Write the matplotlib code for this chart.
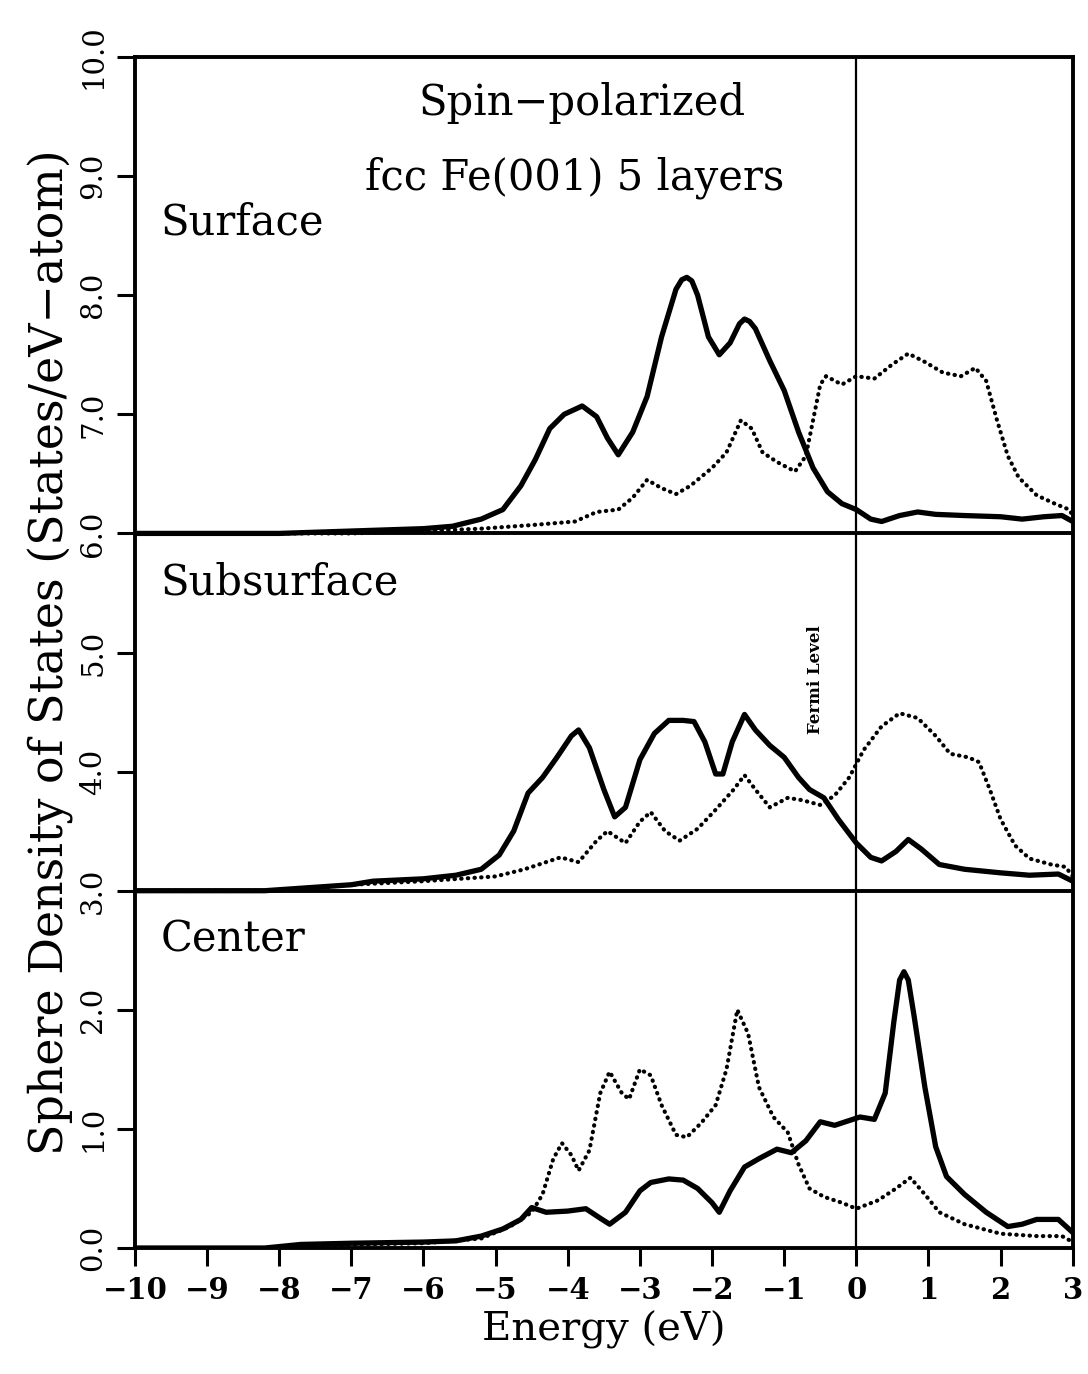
import numpy as np
import matplotlib.pyplot as plt

# layer DOS (values relative to each panel's baseline)
surf_up_e = [-10, -8, -7, -6, -5.6, -5.2, -4.9, -4.65, -4.45, -4.25, -4.05, -3.8, -3.6, -3.45, -3.3,
             -3.1, -2.9, -2.7, -2.5, -2.42, -2.35, -2.28, -2.2, -2.05, -1.9, -1.75, -1.62, -1.55,
             -1.48, -1.4, -1.2, -1.0, -0.8, -0.6, -0.4, -0.2, 0.0, 0.2, 0.35, 0.6, 0.85, 1.1,
             1.5, 2.0, 2.3, 2.6, 2.85, 3.0]
surf_up = [0.0, 0.0, 0.02, 0.04, 0.06, 0.12, 0.2, 0.4, 0.62, 0.88, 1.0, 1.07, 0.98, 0.8, 0.66,
           0.85, 1.15, 1.65, 2.05, 2.13, 2.15, 2.12, 2.0, 1.65, 1.5, 1.6, 1.76, 1.8,
           1.78, 1.72, 1.45, 1.2, 0.85, 0.55, 0.35, 0.25, 0.2, 0.12, 0.1, 0.15, 0.18, 0.16,
           0.15, 0.14, 0.12, 0.14, 0.15, 0.1]

surf_dn_e = [-10, -7, -6, -5.2, -4.5, -3.9, -3.6, -3.3, -3.1, -2.9, -2.7, -2.5, -2.3, -2.0, -1.8,
             -1.6, -1.45, -1.3, -1.1, -0.85, -0.7, -0.6, -0.5, -0.42, -0.2, 0.0, 0.25, 0.5,
             0.72, 0.95, 1.2, 1.45, 1.65, 1.8, 1.95, 2.1, 2.25, 2.5, 2.75, 2.95, 3.0]
surf_dn = [0.0, 0.0, 0.02, 0.04, 0.07, 0.1, 0.18, 0.2, 0.3, 0.45, 0.38, 0.33, 0.4, 0.55, 0.68,
           0.95, 0.88, 0.68, 0.6, 0.52, 0.65, 0.95, 1.25, 1.32, 1.25, 1.32, 1.3, 1.42,
           1.51, 1.44, 1.35, 1.32, 1.39, 1.28, 0.95, 0.65, 0.47, 0.32, 0.25, 0.2, 0.15]

sub_up_e = [-10, -8.2, -7, -6.7, -6, -5.55, -5.2, -4.95, -4.75, -4.55, -4.35, -4.15, -3.95, -3.85,
            -3.7, -3.5, -3.35, -3.2, -3.0, -2.8, -2.6, -2.4, -2.25, -2.1, -1.95, -1.85, -1.72,
            -1.55, -1.4, -1.2, -1.0, -0.8, -0.65, -0.45, -0.25, 0.0, 0.2, 0.35, 0.55, 0.72,
            0.9, 1.15, 1.5, 2.0, 2.4, 2.8, 3.0]
sub_up = [0.0, 0.0, 0.05, 0.08, 0.1, 0.13, 0.18, 0.3, 0.5, 0.82, 0.95, 1.12, 1.3, 1.35,
          1.2, 0.85, 0.62, 0.7, 1.1, 1.32, 1.43, 1.43, 1.42, 1.25, 0.98, 0.98, 1.25,
          1.48, 1.35, 1.22, 1.12, 0.95, 0.85, 0.78, 0.6, 0.4, 0.28, 0.25, 0.33, 0.43,
          0.35, 0.22, 0.18, 0.15, 0.13, 0.14, 0.08]

sub_dn_e = [-10, -8, -7, -6, -5.5, -5.0, -4.6, -4.1, -3.85, -3.6, -3.45, -3.2, -3.0, -2.85,
            -2.65, -2.45, -2.2, -1.95, -1.7, -1.55, -1.4, -1.2, -0.95, -0.75, -0.5, -0.3,
            -0.1, 0.1, 0.35, 0.6, 0.85, 1.1, 1.3, 1.55, 1.7, 1.85, 2.0, 2.2, 2.4, 2.7, 2.9, 3.0]
sub_dn = [0.0, 0.0, 0.05, 0.08, 0.1, 0.12, 0.18, 0.28, 0.24, 0.42, 0.5, 0.4, 0.58, 0.66,
          0.5, 0.42, 0.52, 0.68, 0.85, 0.97, 0.85, 0.7, 0.78, 0.76, 0.72, 0.8,
          0.95, 1.18, 1.38, 1.49, 1.45, 1.3, 1.15, 1.12, 1.08, 0.85, 0.6, 0.38, 0.27, 0.22, 0.2, 0.12]

cen_up_e = [-10, -8.2, -7.7, -7, -6, -5.55, -5.2, -4.9, -4.65, -4.5, -4.3, -4.0, -3.75, -3.55,
            -3.42, -3.2, -3.0, -2.85, -2.6, -2.4, -2.2, -2.0, -1.9, -1.75, -1.55, -1.35, -1.1,
            -0.9, -0.7, -0.5, -0.3, -0.15, 0.05, 0.25, 0.4, 0.52, 0.6, 0.66, 0.72, 0.8, 0.95,
            1.1, 1.25, 1.5, 1.8, 2.1, 2.3, 2.5, 2.8, 3.0]
cen_up = [0.0, 0.0, 0.03, 0.04, 0.05, 0.06, 0.1, 0.16, 0.24, 0.34, 0.3, 0.31, 0.33, 0.25,
          0.2, 0.3, 0.48, 0.55, 0.58, 0.57, 0.5, 0.38, 0.3, 0.48, 0.68, 0.75, 0.83,
          0.8, 0.9, 1.06, 1.03, 1.06, 1.1, 1.08, 1.3, 1.9, 2.25, 2.32, 2.25, 1.95, 1.35,
          0.85, 0.6, 0.45, 0.3, 0.18, 0.2, 0.24, 0.24, 0.13]

cen_dn_e = [-10, -8.2, -7.7, -6, -5.2, -4.8, -4.5, -4.35, -4.2, -4.08, -3.95, -3.85, -3.7, -3.55,
            -3.42, -3.25, -3.15, -3.0, -2.85, -2.7, -2.5, -2.35, -2.15, -1.95, -1.8, -1.65,
            -1.5, -1.35, -1.15, -0.95, -0.8, -0.65, -0.45, -0.2, 0.0, 0.3, 0.55, 0.75, 0.95,
            1.15, 1.5, 2.0, 2.5, 2.85, 3.0]
cen_dn = [0.0, 0.0, 0.02, 0.04, 0.08, 0.18, 0.3, 0.45, 0.75, 0.88, 0.78, 0.65, 0.82, 1.3,
          1.48, 1.3, 1.25, 1.5, 1.45, 1.2, 0.95, 0.93, 1.05, 1.2, 1.5, 2.0,
          1.8, 1.35, 1.1, 0.97, 0.7, 0.5, 0.43, 0.38, 0.33, 0.4, 0.5, 0.59, 0.45,
          0.3, 0.2, 0.12, 0.1, 0.1, 0.05]

offsets = [6.0, 3.0, 0.0]
layer_names = ['Surface', 'Subsurface', 'Center']
x_ticks = list(range(-10, 4))
y_ticks = [0.0, 1.0, 2.0, 3.0, 4.0, 5.0, 6.0, 7.0, 8.0, 9.0, 10.0]

plt.rcParams['font.family'] = 'DejaVu Serif'

fig = plt.figure(figsize=(10.88, 13.74), dpi=100)
ax = fig.add_axes([0.124, 0.0917, 0.862, 0.8668])

layers = [(surf_up_e, surf_up, surf_dn_e, surf_dn),
          (sub_up_e, sub_up, sub_dn_e, sub_dn),
          (cen_up_e, cen_up, cen_dn_e, cen_dn)]

for (eu, u, ed, d), off in zip(layers, offsets):
    ax.plot(eu, np.array(u) + off, color='black', lw=3.8,
            solid_joinstyle='round', solid_capstyle='round')
    ax.plot(ed, np.array(d) + off, color='black', lw=3.0, linestyle=(0, (0.1, 1.5)),
            dash_capstyle='round')

# panel separators and Fermi level
for off in offsets[:2]:
    ax.axhline(off, color='black', lw=2.8)
ax.axvline(0, color='black', lw=1.6)

ax.set_xlim(-10, 3)
ax.set_ylim(0, 10)
ax.set_xticks(x_ticks)
ax.set_xticklabels([str(t).replace('-', '\u2212') for t in x_ticks], fontsize=21, fontweight='bold')
ax.set_yticks(y_ticks)
ax.set_yticklabels(['%.1f' % t for t in y_ticks], fontsize=21, rotation=90, va='center')
ax.tick_params(direction='out', length=13, width=2.2, pad=7)
for s in ax.spines.values():
    s.set_linewidth(2.8)

ax.set_xlabel('Energy (eV)', fontsize=29, labelpad=4)
ax.set_ylabel('Sphere Density of States (States/eV\u2212atom)', fontsize=33, labelpad=4)

ax.text(-3.8, 9.61, 'Spin\u2212polarized', fontsize=30, ha='center', va='center')
ax.text(-3.9, 8.99, 'fcc Fe(001) 5 layers', fontsize=30, ha='center', va='center')

label_y = [8.61, 5.59, 2.59]
for name, ly in zip(layer_names, label_y):
    ax.text(-9.65, ly, name, fontsize=30, ha='left', va='center')

ax.text(-0.57, 4.77, 'Fermi Level', fontsize=12, fontweight='bold', rotation=90,
        ha='center', va='center')

fig.savefig('out.png', dpi=100)
